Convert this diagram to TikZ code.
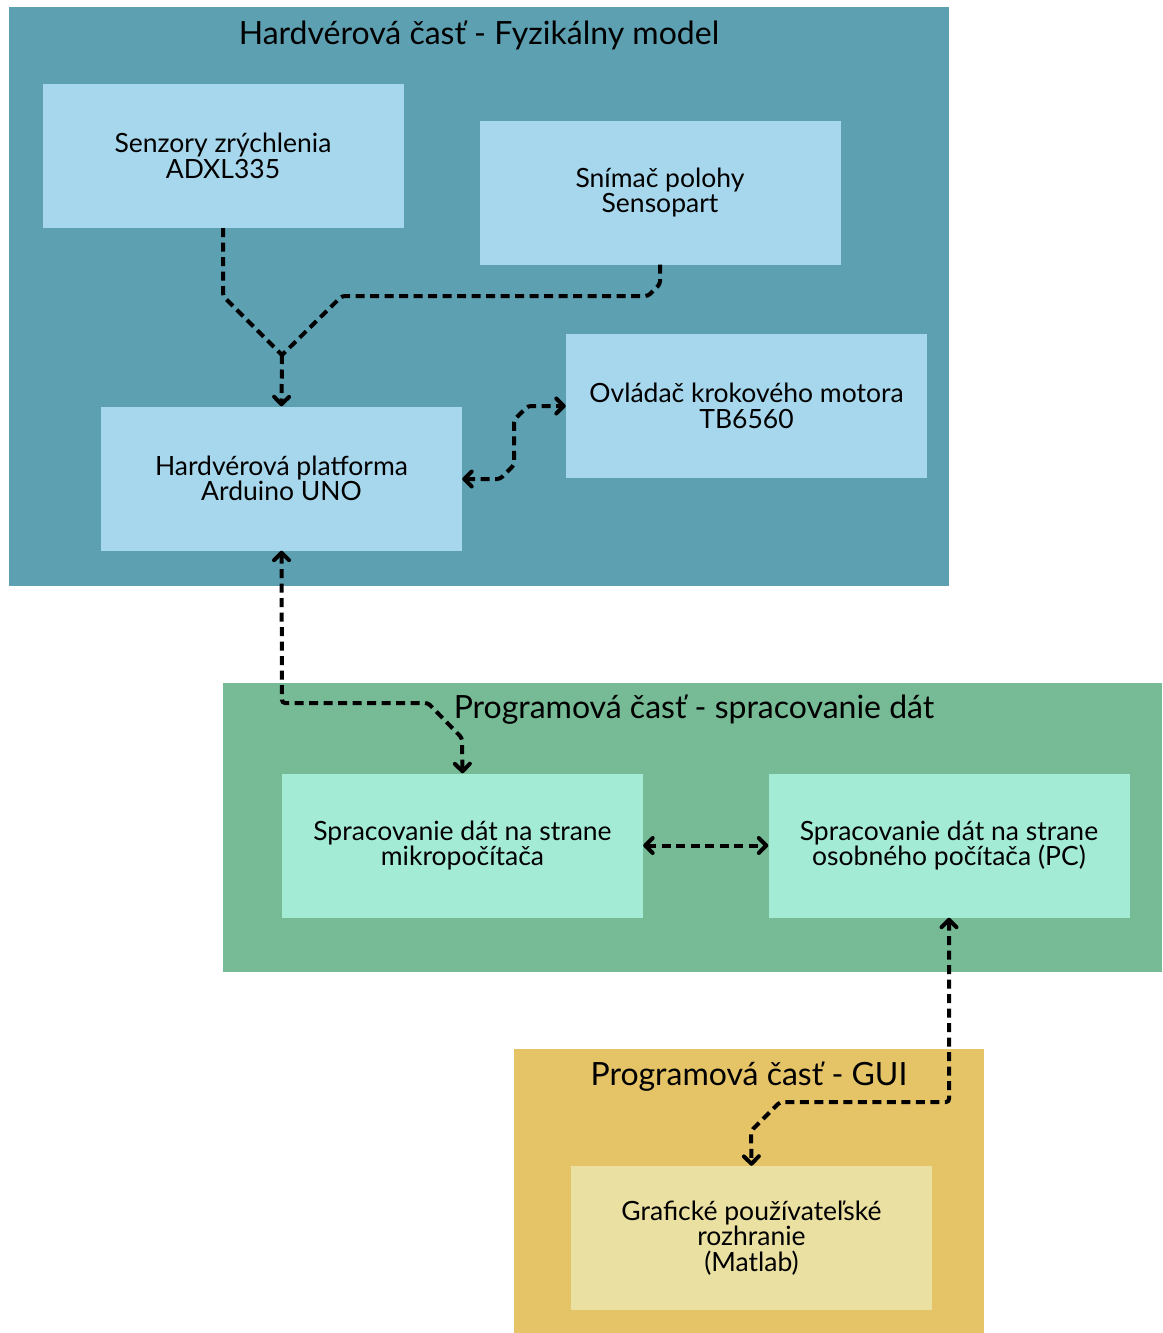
\documentclass[tikz,border=0pt]{standalone}
\usepackage{fontspec}
\setmainfont{Lato}
\usetikzlibrary{arrows.meta}
\definecolor{hwbg}{HTML}{5DA0B2}
\definecolor{hwbox}{HTML}{A7D7EC}
\definecolor{swbg}{HTML}{76BB96}
\definecolor{swbox}{HTML}{A4EBD5}
\definecolor{guibg}{HTML}{E5C468}
\definecolor{guibox}{HTML}{EAE0A1}
\tikzset{
  blk/.style={draw=none, inner sep=0pt, minimum width=361pt, minimum height=144pt, align=center, font=\fontsize{26.5}{25.5}\selectfont},
  ttl/.style={inner sep=0pt, font=\fontsize{32}{32}\selectfont},
  conn/.style={line width=4pt, dash pattern=on 9pt off 5.5pt, rounded corners=3pt},
  tip/.style={-{Straight Barb[length=7.5pt,width=15pt,line cap=round,line join=round]}},
  tips/.style={{Straight Barb[length=7.5pt,width=15pt,line cap=round,line join=round]}-{Straight Barb[length=7.5pt,width=15pt,line cap=round,line join=round]}}
}
\begin{document}
\begin{tikzpicture}[x=1pt,y=-1pt]
\useasboundingbox (0,0) rectangle (1162,1333);
% groups
\fill[hwbg] (9,7) rectangle (949,586);
\fill[swbg] (223,683) rectangle (1162,972);
\fill[guibg] (514,1049) rectangle (984,1333);
\node[ttl] (thw) at (479,35) {Hardvérová časť - Fyzikálny model};
\node[ttl] (tsw) at (694,710) {Programová časť - spracovanie dát};
\node[ttl] (tgui) at (749,1077) {Programová časť - GUI};
% blocks
\node[blk, fill=hwbox] (senz) at (223,156) {Senzory zrýchlenia\\ADXL335};
\node[blk, fill=hwbox] (snim) at (660,192.5) {Snímač polohy\\Sensopart};
\node[blk, fill=hwbox] (ovl) at (746.5,406) {Ovládač krokového motora\\TB6560};
\node[blk, fill=hwbox] (plat) at (281.5,478.5) {Hardvérová platforma\\Arduino UNO};
\node[blk, fill=swbox] (mcu) at (462.5,845.5) {Spracovanie dát na strane\\mikropočítača};
\node[blk, fill=swbox] (pc) at (949,845.5) {Spracovanie dát na strane\\osobného počítača (PC)};
\node[blk, fill=guibox] (gui) at (751.5,1238) {Grafické používateľské\\rozhranie\\(Matlab)};
% connectors
\coordinate (merge) at (282,355);
\draw[conn] (senz.south) -- (223,296) -- (merge);
\draw[conn] (snim.south) -- (660,284) -- (648,296) -- (342,296) -- (merge);
\draw[conn,tip] (merge) -- (plat.north);
\draw[conn,tips] (plat.east |- 0,479) -- (500,479) -- (514,465) -- (514,420) -- (528,406) -- (ovl.west);
\draw[conn,tips] (plat.south) -- (282,703) -- (428,703) -- (462,738) -- (mcu.north);
\draw[conn,tips] (mcu.east) -- (pc.west);
\draw[conn,tips] (pc.south) -- (949,1102) -- (780,1102) -- (751,1131) -- (gui.north);
\end{tikzpicture}
\end{document}
